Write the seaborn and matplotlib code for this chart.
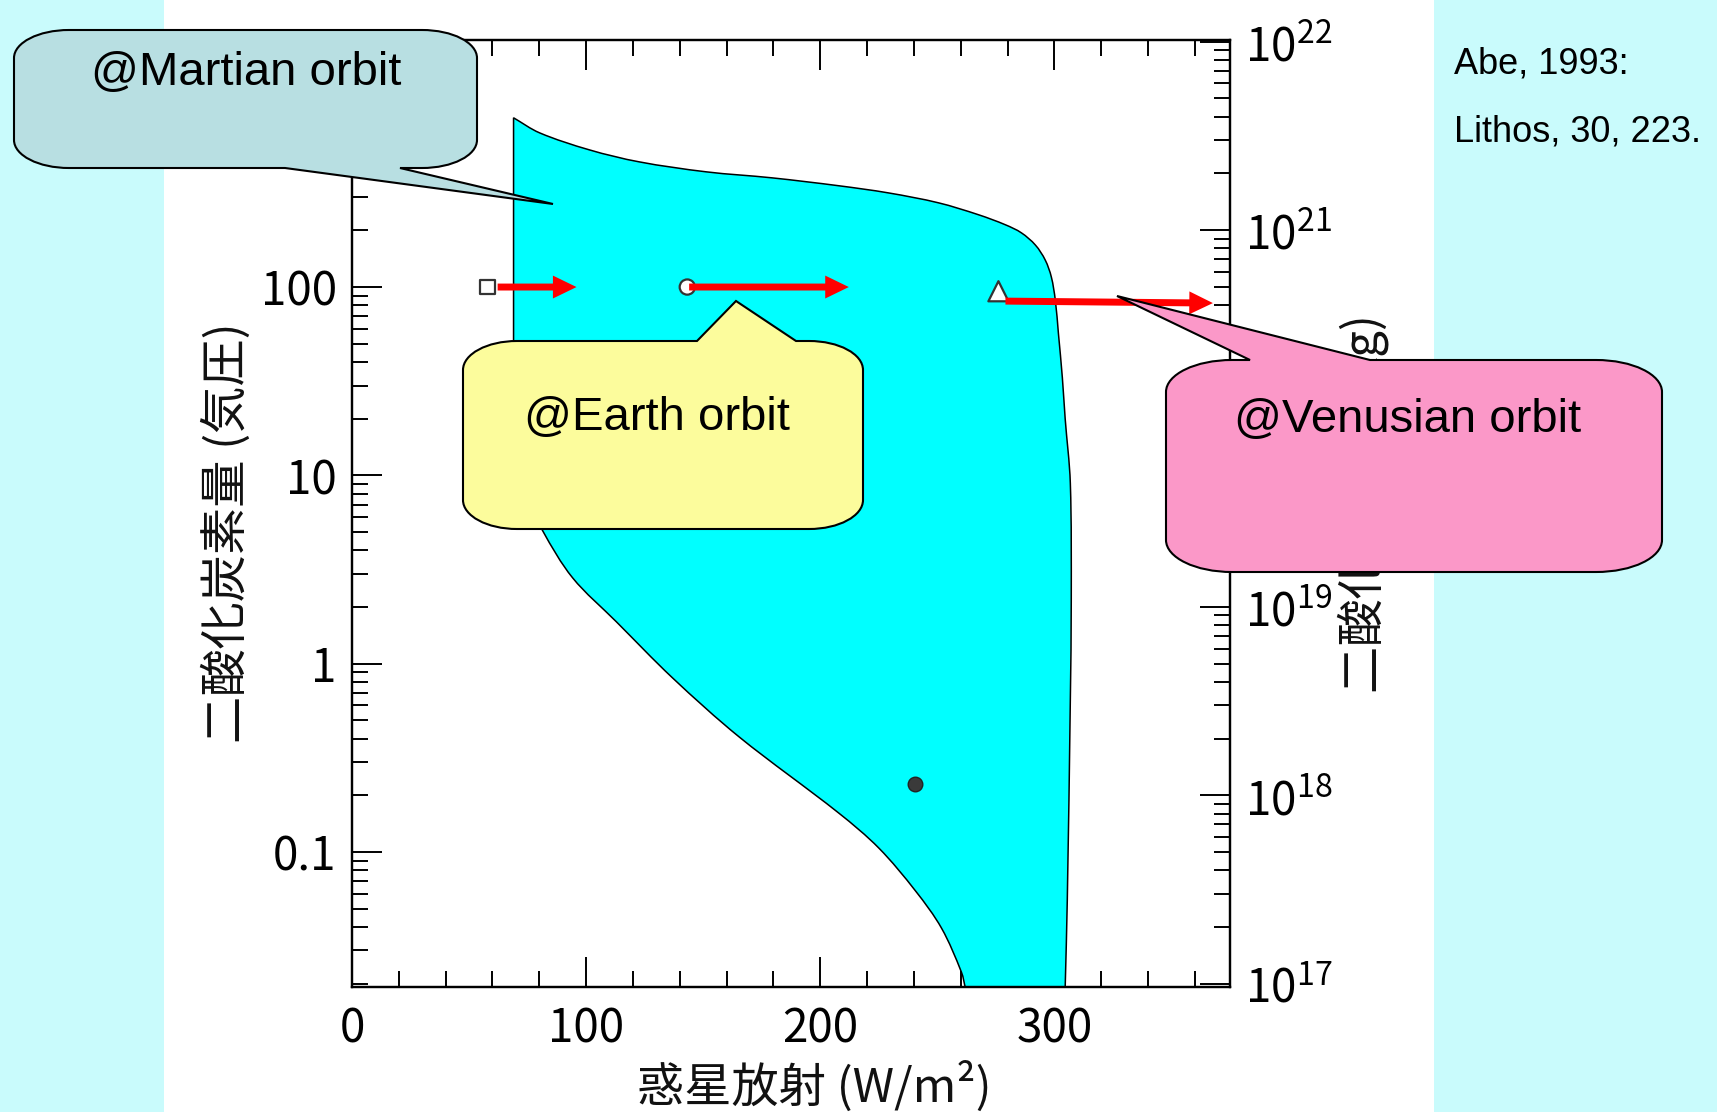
import numpy as np
import matplotlib
matplotlib.use("Agg")
import matplotlib.pyplot as plt
import seaborn as sns
from matplotlib.path import Path
from matplotlib.patches import PathPatch, Rectangle
from matplotlib.ticker import LogLocator, MultipleLocator, FuncFormatter, NullFormatter

# --- values (Abe, 1993) ---
# upper / right edge of the cyan region: planetary radiation (W/m2) vs CO2 (bar)
upper_x = [69.0, 80.1, 101.4, 122.7, 151.3, 179.4, 207.9, 229.2, 250.5, 267.6, 279.1, 285.9,
           291.9, 296.1, 298.7, 300.4, 301.7, 303.4, 304.6, 306.8, 307.2, 306.8, 305.5, 304.6]
upper_y = [792, 659, 535, 462, 409, 380, 345, 316, 280, 242, 214, 194,
           167, 139, 113, 85, 57, 33, 20, 9.1, 2.16, 0.64, 0.055, 0.019]
# left / lower edge, from the top-left corner down to the bottom axis
lower_x = [69.0, 69.0, 69.0, 71.6, 75.8, 81.4, 94.2, 112.9, 136.8, 165.3,
           207.9, 225.0, 240.7, 251.8, 260.3, 262.0]
lower_y = [792, 52.3, 25.1, 12.0, 7.36, 5.09, 2.86, 1.67, 0.843, 0.409,
           0.161, 0.105, 0.0621, 0.0394, 0.0230, 0.0189]

orbit_names = ["Mars", "Earth", "Venus"]
orbit_flux = [57.9, 143.2, 276.1]
orbit_co2 = [100, 100, 95]
arrow_start_x = [62.2, 144.0, 279.1]
arrow_start_y = [100, 100, 84.2]
arrow_end_x = [95.9, 212.2, 367.7]
arrow_end_y = [100, 100, 82.2]

present_x = [240.3]
present_y = [0.23]

callout_texts = ["@Martian orbit", "@Earth orbit", "@Venusian orbit"]
callout_colors = ["#B8DFE2", "#FCFC9C", "#FB98C8"]
citation = ["Abe, 1993:", "Lithos, 30, 223."]

# --- figure ---
W, H = 1717, 1112
sns.set_theme(style="ticks")
plt.rcParams["font.family"] = ["Noto Sans CJK JP", "DejaVu Sans"]
plt.rcParams["mathtext.fontset"] = "custom"
plt.rcParams["mathtext.rm"] = "Noto Sans CJK JP"
plt.rcParams["mathtext.default"] = "rm"

fig = plt.figure(figsize=(W / 100, H / 100), dpi=100, facecolor="#C9FBFC")
fig.add_artist(Rectangle((164 / W, 0), (1434 - 164) / W, 1, transform=fig.transFigure,
                         facecolor="white", edgecolor="none", zorder=-1))

ax = fig.add_axes([352 / W, 1 - 987 / H, (1230 - 352) / W, (987 - 40) / H])
ax.set_facecolor("white")
ax.set_yscale("log")
ax.set_xlim(0, 375)
ax.set_ylim(0.0192, 2050)


def smooth(xs, ys):
    # smooth bezier outline through the read points, built in (x, log y) space
    sx, sy = 2.347, 188.0
    P = np.column_stack([np.asarray(xs) * sx, np.log10(ys) * sy])
    n = len(P)
    U = np.zeros_like(P)
    for i in range(n):
        d = P[min(i + 1, n - 1)] - P[max(i - 1, 0)]
        U[i] = d / np.hypot(*d)
    verts = [P[0]]
    for i in range(n - 1):
        L = np.hypot(*(P[i + 1] - P[i]))
        verts += [P[i] + U[i] * L / 3, P[i + 1] - U[i + 1] * L / 3, P[i + 1]]
    verts = np.array(verts)
    return np.column_stack([verts[:, 0] / sx, 10 ** (verts[:, 1] / sy)])


up = smooth(upper_x, upper_y)
lo = smooth(lower_x[::-1], lower_y[::-1])
verts = np.vstack([up, lo, up[:1]])
codes = ([Path.MOVETO] + [Path.CURVE4] * (len(up) - 1)
         + [Path.LINETO] + [Path.CURVE4] * (len(lo) - 1) + [Path.CLOSEPOLY])
ax.add_patch(PathPatch(Path(verts, codes), facecolor="#00FFFF", edgecolor="black",
                       linewidth=1.1, zorder=1))

# orbit markers
sns.scatterplot(x=orbit_flux, y=orbit_co2, style=orbit_names, size=orbit_names,
                markers={"Mars": "s", "Earth": "o", "Venus": "^"},
                sizes={"Mars": 110, "Earth": 120, "Venus": 210},
                color="white", edgecolor="#333333", linewidth=1.6,
                legend=False, ax=ax, zorder=3)
sns.scatterplot(x=present_x, y=present_y, color="#3a3a3a", edgecolor="#222222",
                s=110, linewidth=1, legend=False, ax=ax, zorder=3)

for x0, y0, x1, y1 in zip(arrow_start_x, arrow_start_y, arrow_end_x, arrow_end_y):
    ax.annotate("", xy=(x1, y1), xytext=(x0, y0),
                arrowprops=dict(arrowstyle="simple,head_length=17,head_width=16.5,tail_width=5",
                                mutation_scale=1, fc="red", ec="none", shrinkA=0, shrinkB=0),
                zorder=4)

# axes styling
ax.xaxis.set_major_locator(MultipleLocator(100))
ax.xaxis.set_minor_locator(MultipleLocator(20))
ax.yaxis.set_major_locator(LogLocator(base=10, numticks=20))
ax.yaxis.set_minor_locator(LogLocator(base=10, subs=np.arange(2, 10), numticks=20))
ax.yaxis.set_major_formatter(FuncFormatter(lambda v, p: f"{v:g}" if v <= 100 else ""))
ax.yaxis.set_minor_formatter(NullFormatter())
ax.tick_params(axis="both", which="both", direction="in", color="black", labelcolor="black")
ax.tick_params(axis="x", which="both", top=True, bottom=True)
ax.tick_params(axis="y", which="both", left=True, right=False)
ax.tick_params(which="major", length=21.6, width=1.4, labelsize=33, pad=11)
ax.tick_params(axis="x", which="major", pad=13)
ax.tick_params(which="minor", length=11.5, width=1.4)
for s in ax.spines.values():
    s.set_color("black")
    s.set_linewidth(1.6)

ax.set_xlabel("惑星放射 (W/m²)", fontsize=34, color="#111111")
ax.xaxis.set_label_coords(0.527, -0.079)
ax.set_ylabel("二酸化炭素量 (気圧)", fontsize=34, color="#111111")
ax.yaxis.set_label_coords(-0.114, 0.48)

ax2 = ax.twinx()
ax2.set_yscale("log")
ax2.set_ylim(9.6e16, 1.02e22)
ax2.yaxis.set_major_locator(LogLocator(base=10, numticks=20))
ax2.yaxis.set_minor_locator(LogLocator(base=10, subs=np.arange(2, 10), numticks=20))
ax2.yaxis.set_major_formatter(FuncFormatter(lambda v, p: f"$10^{{{int(round(np.log10(v)))}}}$"))
ax2.yaxis.set_minor_formatter(NullFormatter())
ax2.tick_params(axis="y", which="both", direction="in", right=True, left=False, color="black",
                labelcolor="black")
ax2.tick_params(which="major", length=21.6, width=1.4, labelsize=33, pad=11)
ax2.tick_params(which="minor", length=11.5, width=1.4)
for s in ax2.spines.values():
    s.set_color("black")
    s.set_linewidth(1.6)
ax2.set_ylabel("二酸化炭素量 (kg)", fontsize=34, color="#111111", rotation=90)
ax2.yaxis.set_label_coords(1.122, 0.51)

# --- overlay in pixel coordinates for the speech bubbles ---
ov = fig.add_axes([0, 0, 1, 1], zorder=10)
ov.set_xlim(0, W)
ov.set_ylim(H, 0)
ov.axis("off")
ov.patch.set_alpha(0)

K = 0.5523


def callout(x0, y0, x1, y1, rx, ry, side, b1, b2, tip):
    verts, codes = [], []

    def ln(p):
        verts.append(p)
        codes.append(Path.LINETO)

    def cv(c1, c2, p):
        verts.extend([c1, c2, p])
        codes.extend([Path.CURVE4] * 3)

    verts.append((x0 + rx, y0))
    codes.append(Path.MOVETO)
    if side == "top":
        ln((b1, y0)); ln(tip); ln((b2, y0))
    ln((x1 - rx, y0))
    cv((x1 - rx + K * rx, y0), (x1, y0 + ry - K * ry), (x1, y0 + ry))
    ln((x1, y1 - ry))
    cv((x1, y1 - ry + K * ry), (x1 - rx + K * rx, y1), (x1 - rx, y1))
    if side == "bottom":
        ln((b2, y1)); ln(tip); ln((b1, y1))
    ln((x0 + rx, y1))
    cv((x0 + rx - K * rx, y1), (x0, y1 - ry + K * ry), (x0, y1 - ry))
    ln((x0, y0 + ry))
    cv((x0, y0 + ry - K * ry), (x0 + rx - K * rx, y0), (x0 + rx, y0))
    verts.append((x0 + rx, y0))
    codes.append(Path.CLOSEPOLY)
    return Path(verts, codes)


bubbles = [
    callout(14, 30, 477, 168, 55, 28, "bottom", 285, 400, (553, 204)),
    callout(463, 341, 863, 529, 54, 29, "top", 697, 796, (736, 301)),
    callout(1166, 360, 1662, 572, 66, 32, "top", 1250, 1370, (1117, 296)),
]
text_pos = [(246, 85), (657, 430), (1408, 432)]
for path, col, txt, (tx, ty) in zip(bubbles, callout_colors, callout_texts, text_pos):
    ov.add_patch(PathPatch(path, facecolor=col, edgecolor="black", linewidth=1.5))
    ov.text(tx, ty, txt, ha="center", va="baseline", fontsize=34,
            family="Liberation Sans", color="black")

ov.text(1454, 74, citation[0], ha="left", va="baseline", fontsize=26,
        family="Liberation Sans", color="black")
ov.text(1454, 142, citation[1], ha="left", va="baseline", fontsize=26,
        family="Liberation Sans", color="black")

fig.savefig("out.png", dpi=100, facecolor=fig.get_facecolor())
